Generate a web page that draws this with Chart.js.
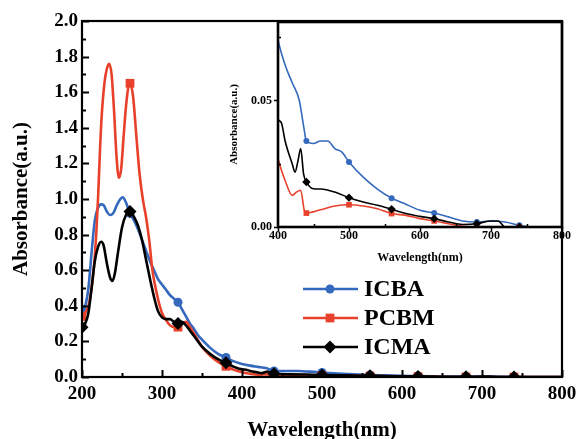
<!DOCTYPE html>
<html><head><meta charset="utf-8">
<script src="https://cdn.jsdelivr.net/npm/chart.js@4/dist/chart.umd.min.js"></script>
<style>
html,body{margin:0;padding:0;background:#fff;}
#wrap{position:relative;width:577px;height:439px;overflow:hidden;}
#mainBox{position:absolute;left:0;top:0;width:577px;height:439px;}
#insetBox{position:absolute;left:220px;top:0;width:357px;height:275px;}
</style></head><body>
<div id="wrap">
<div id="mainBox"><canvas id="main" width="577" height="439"></canvas></div>
<div id="insetBox"><canvas id="inset" width="357" height="275"></canvas></div>
</div>
<script>
// ---- data ----
const seriesNames = ['ICBA', 'PCBM', 'ICMA'];

const icbaWl  = [200,204,208,212,216,220,224,227,231,235,239,244,248,251,255,260,265,270,275,280,285,290,295,300,305,310,315,320,325,330,335,340,345,350,360,370,380,390,400,410,420,430,436,440,450,460,470,480,490,500,520,540,560,580,600,620,640,660,680,700,720,740,760,800];
const icbaAbs = [0.38,0.40,0.50,0.70,0.88,0.95,0.97,0.965,0.93,0.91,0.92,0.97,1.00,1.01,0.98,0.92,0.88,0.83,0.77,0.71,0.65,0.60,0.55,0.52,0.49,0.46,0.44,0.42,0.38,0.34,0.30,0.27,0.235,0.21,0.165,0.13,0.11,0.088,0.0737,0.064,0.057,0.050,0.040,0.034,0.033,0.034,0.034,0.031,0.0296,0.0257,0.0197,0.015,0.0114,0.009,0.0066,0.0055,0.004,0.0024,0.002,0.0024,0.002,0.0007,0,0];

const pcbmWl  = [200,204,208,212,216,218,220,224,228,231,234,237,240,243,246,249,252,255,258,260,264,268,272,276,280,284,288,292,296,300,305,310,315,320,325,330,335,340,345,350,360,370,380,390,400,410,420,426,432,437,440,460,480,500,520,540,560,580,600,620,640,660,680,740,800];
const pcbmAbs = [0.34,0.36,0.40,0.50,0.68,0.82,1.00,1.42,1.65,1.73,1.76,1.70,1.50,1.25,1.12,1.17,1.35,1.52,1.63,1.65,1.57,1.35,1.14,1.00,0.90,0.77,0.60,0.50,0.42,0.36,0.32,0.29,0.28,0.28,0.30,0.31,0.28,0.245,0.205,0.17,0.12,0.085,0.06,0.04,0.027,0.0184,0.0125,0.0138,0.0145,0.0066,0.0055,0.0068,0.0083,0.0088,0.0083,0.0072,0.0053,0.0046,0.0033,0.0024,0.0013,0.0003,0,0,0];

const icmaWl  = [200,204,208,212,216,220,224,227,231,235,238,241,245,250,255,260,265,270,275,280,285,290,295,300,305,310,315,320,325,330,335,340,345,350,360,370,380,390,400,405,410,420,424,428,432,436,440,450,460,480,500,520,540,560,580,600,620,640,660,680,700,710,720,740,800];
const icmaAbs = [0.28,0.30,0.36,0.50,0.65,0.73,0.76,0.74,0.64,0.56,0.54,0.58,0.70,0.84,0.91,0.93,0.90,0.85,0.77,0.66,0.55,0.45,0.37,0.335,0.325,0.325,0.31,0.30,0.31,0.29,0.26,0.23,0.20,0.17,0.13,0.10,0.08,0.057,0.0428,0.041,0.034,0.025,0.0217,0.026,0.031,0.021,0.0178,0.0151,0.015,0.0138,0.0116,0.0099,0.0086,0.007,0.0053,0.0042,0.0033,0.002,0.001,0.0013,0.0024,0.0024,0,0,0];

const markerWl = [200,260,320,380,440,500,560,620,680,740];

const mainXTicks = [200,300,400,500,600,700,800];
const mainYTicks = [0.0,0.2,0.4,0.6,0.8,1.0,1.2,1.4,1.6,1.8,2.0];
const insetXTicks = [400,500,600,700,800];
const insetYTicks = [0.00,0.05];

// ---- styling ----
const FONT = "'Liberation Serif','Times New Roman',serif";
const BLUE = '#3469bd', RED = '#e8412b', BLACK = '#000000';
const styles = [
  {color: BLUE, style: 'circle', r: 4.5, ri: 3, order: 2},
  {color: RED, style: 'rect', r: 6.2, ri: 4, order: 1},
  {color: BLACK, style: 'rectRot', r: 6.5, ri: 4.2, order: 0}
];
const wls = [icbaWl, pcbmWl, icmaWl];
const absv = [icbaAbs, pcbmAbs, icmaAbs];

function makeDatasets(inset) {
  return seriesNames.map((name, i) => {
    const s = styles[i];
    const rad = inset ? s.ri : s.r;
    return {
      label: name,
      data: wls[i].map((w, k) => ({x: w, y: absv[i][k]})),
      borderColor: s.color,
      backgroundColor: s.color,
      borderWidth: inset ? 1.6 : 2.6,
      pointStyle: s.style,
      pointBorderWidth: 0,
      pointRadius: c => (c.raw && markerWl.includes(c.raw.x)) ? rad : 0,
      pointHoverRadius: 0,
      cubicInterpolationMode: 'monotone',
      order: s.order
    };
  });
}

function frameTicks(o) {
  return {
    id: 'frameTicks',
    afterDraw(chart) {
      const {ctx, chartArea: a, scales: {x, y}} = chart;
      ctx.save();
      ctx.strokeStyle = '#000';
      ctx.lineWidth = o.tickWidth;
      ctx.beginPath();
      for (let v = x.min; v <= x.max + 1e-9; v += o.xMinor) {
        const px = Math.round(x.getPixelForValue(v)) + 0.5;
        const major = Math.abs((v - x.min) / o.xMajor - Math.round((v - x.min) / o.xMajor)) < 1e-6;
        const len = major ? o.majorLen : o.minorLen;
        const dir = major ? o.majorDir : o.minorDir; // -1 inward, +1 outward
        ctx.moveTo(px, a.bottom);
        ctx.lineTo(px, a.bottom + dir * len);
      }
      for (let v = y.min; v <= y.max + 1e-9; v += o.yMinor) {
        const py = Math.round(y.getPixelForValue(v)) + 0.5;
        const major = Math.abs(v / o.yMajor - Math.round(v / o.yMajor)) < 1e-6;
        const len = major ? o.majorLen : o.minorLen;
        const dir = major ? o.majorDir : o.minorDir;
        ctx.moveTo(a.left, py);
        ctx.lineTo(a.left - dir * len, py);
      }
      ctx.stroke();
      ctx.lineWidth = o.frameWidth;
      ctx.strokeRect(a.left, a.top, a.right - a.left, a.bottom - a.top);
      ctx.restore();
    }
  };
}

const legendPlugin = {
  id: 'insideLegend',
  afterDraw(chart) {
    const ctx = chart.ctx;
    const x0 = 303, x1 = 358, xm = 330, tx = 364, y0 = 289, dy = 29;
    ctx.save();
    chart.data.datasets.forEach((ds, i) => {
      const y = y0 + i * dy;
      ctx.strokeStyle = ds.borderColor;
      ctx.lineWidth = 2.6;
      ctx.beginPath(); ctx.moveTo(x0, y); ctx.lineTo(x1, y); ctx.stroke();
      ctx.fillStyle = ds.borderColor;
      const s = styles[i];
      ctx.beginPath();
      if (s.style === 'circle') { ctx.arc(xm, y, s.r, 0, Math.PI * 2); }
      else if (s.style === 'rect') { const h = s.r * Math.SQRT1_2; ctx.rect(xm - h, y - h, 2 * h, 2 * h); }
      else { ctx.moveTo(xm, y - s.r); ctx.lineTo(xm + s.r, y); ctx.lineTo(xm, y + s.r); ctx.lineTo(xm - s.r, y); ctx.closePath(); }
      ctx.fill();
      ctx.fillStyle = '#000';
      ctx.font = "bold 24px " + FONT;
      ctx.textBaseline = 'middle';
      ctx.textAlign = 'left';
      ctx.fillText(ds.label, tx, y + 1);
    });
    ctx.restore();
  }
};

function fixX(h) { return s => { s.height = h; s.paddingLeft = 0; s.paddingRight = 0; }; }
function fixY(w) { return s => { s.width = w; s.paddingTop = 0; s.paddingBottom = 0; }; }

// ---- main chart ----
new Chart(document.getElementById('main'), {
  type: 'line',
  data: {datasets: makeDatasets(false)},
  options: {
    responsive: false, animation: false, devicePixelRatio: 1,
    layout: {padding: {top: 21, right: 15, left: 0, bottom: 0}},
    plugins: {legend: {display: false}, tooltip: {enabled: false}},
    scales: {
      x: {
        type: 'linear', min: 200, max: 800,
        afterBuildTicks: s => { s.ticks = mainXTicks.map(v => ({value: v})); },
        afterFit: fixX(62),
        ticks: {color: '#000', font: {family: FONT, size: 19, weight: 'bold'}, padding: 6, maxRotation: 0, autoSkip: false},
        grid: {display: false, drawTicks: false},
        border: {display: false},
        title: {display: true, text: 'Wavelength(nm)', color: '#000', font: {family: FONT, size: 21, weight: 'bold'}, padding: {top: 0, bottom: -4}}
      },
      y: {
        type: 'linear', min: 0, max: 2.0,
        afterBuildTicks: s => { s.ticks = mainYTicks.map(v => ({value: v})); },
        afterFit: fixY(82),
        ticks: {color: '#000', font: {family: FONT, size: 19, weight: 'bold'}, padding: 4, autoSkip: false, callback: v => Number(v).toFixed(1)},
        grid: {display: false, drawTicks: false},
        border: {display: false},
        title: {display: true, text: 'Absorbance(a.u.)', color: '#000', font: {family: FONT, size: 21, weight: 'bold'}, padding: {top: 9, bottom: 0}}
      }
    }
  },
  plugins: [frameTicks({xMinor: 50, xMajor: 100, yMinor: 0.1, yMajor: 0.2, majorLen: 7, minorLen: 4, majorDir: -1, minorDir: -1, tickWidth: 2, frameWidth: 2.2}), legendPlugin]
});

// ---- inset chart ----
new Chart(document.getElementById('inset'), {
  type: 'line',
  data: {datasets: makeDatasets(true)},
  options: {
    responsive: false, animation: false, devicePixelRatio: 1,
    layout: {padding: {top: 22, right: 15, left: 0, bottom: 0}},
    plugins: {legend: {display: false}, tooltip: {enabled: false}},
    scales: {
      x: {
        type: 'linear', min: 400, max: 800,
        afterBuildTicks: s => { s.ticks = insetXTicks.map(v => ({value: v})); },
        afterFit: fixX(48),
        ticks: {color: '#000', font: {family: FONT, size: 12, weight: 'bold'}, padding: 2, maxRotation: 0, autoSkip: false},
        grid: {display: false, drawTicks: false},
        border: {display: false},
        title: {display: true, text: 'Wavelength(nm)', color: '#000', font: {family: FONT, size: 12, weight: 'bold'}, padding: {top: 0, bottom: 10}}
      },
      y: {
        type: 'linear', min: 0, max: 0.081,
        afterBuildTicks: s => { s.ticks = insetYTicks.map(v => ({value: v})); },
        afterFit: fixY(58),
        ticks: {color: '#000', font: {family: FONT, size: 12, weight: 'bold'}, padding: 6, autoSkip: false, callback: v => Number(v).toFixed(2)},
        grid: {display: false, drawTicks: false},
        border: {display: false},
        title: {display: true, text: 'Absorbance(a.u.)', color: '#000', font: {family: FONT, size: 11, weight: 'bold'}, padding: {top: 8, bottom: 0}}
      }
    }
  },
  plugins: [frameTicks({xMinor: 50, xMajor: 100, yMinor: 0.025, yMajor: 0.05, majorLen: 4, minorLen: 3, majorDir: 1, minorDir: -1, tickWidth: 1.5, frameWidth: 2.6})]
});
</script>
</body></html>
